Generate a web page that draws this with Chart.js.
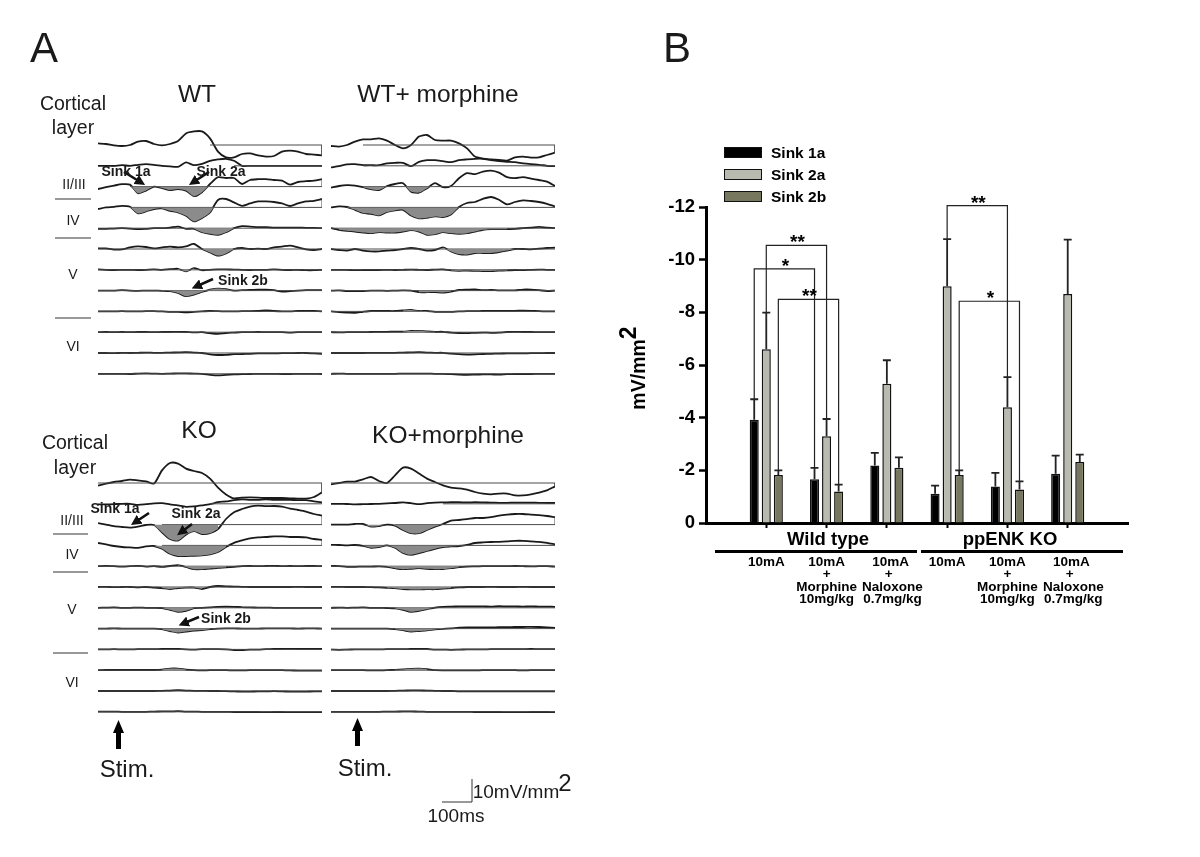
<!DOCTYPE html>
<html lang="en">

<head>
    <meta charset="UTF-8">
    <title>Sink amplitudes</title>
    <script src="https://cdn.jsdelivr.net/npm/chart.js"></script>
    <style>
        * {
            margin: 0;
            padding: 0;
        }

        body {
            background-color: #fff;
            width: 1200px;
            height: 857px;
            position: relative;
            overflow: hidden;
            font-family: "Liberation Sans", Arial, sans-serif;
            color: #1a1a1a;
        }

        canvas,
        svg {
            position: absolute;
        }

        .t {
            position: absolute;
            transform: translate(-50%, -50%);
            white-space: nowrap;
        }

        .panel { font-size: 42px; }
        .title { font-size: 24.5px; }
        .cortical { font-size: 19.5px; }
        .layer { font-size: 14px; }
        .stim { font-size: 24px; }
        .scale { font-size: 19px; }
        .sink { font-size: 14px; font-weight: bold; }
        .group { font-size: 18.5px; font-weight: bold; color: #000; }
        .legendText { font-size: 15.5px; font-weight: bold; color: #000; transform: translate(0, -50%); }

        .swatch {
            position: absolute;
            left: 724px;
            width: 36px;
            height: 9px;
            border: 1.5px solid #111;
        }

        .bar {
            position: absolute;
            background-color: #000;
            height: 3px;
            top: 550px;
        }
    </style>
</head>

<body>
    <canvas id="wtChart" width="224" height="272" style="left:98px;top:121px"></canvas>
    <canvas id="wtmChart" width="224" height="272" style="left:331px;top:121px"></canvas>
    <canvas id="koChart" width="224" height="272" style="left:98px;top:459px"></canvas>
    <canvas id="komChart" width="224" height="272" style="left:331px;top:459px"></canvas>
    <canvas id="barChart" width="540" height="490" style="left:640px;top:130px"></canvas>

    <svg width="1200" height="857" style="left:0;top:0">
        <defs>
            <marker id="head" markerWidth="4" markerHeight="4" refX="2.6" refY="2" orient="auto">
                <path d="M0,0 L4,2 L0,4 Z" fill="#111"></path>
            </marker>
        </defs>
        <g stroke="#333" stroke-width="1">
            <line x1="55" y1="199" x2="91" y2="199"></line>
            <line x1="55" y1="238" x2="91" y2="238"></line>
            <line x1="55" y1="318" x2="91" y2="318"></line>
            <line x1="53" y1="534" x2="88" y2="534"></line>
            <line x1="53" y1="572" x2="88" y2="572"></line>
            <line x1="53" y1="653" x2="88" y2="653"></line>
            <line x1="472" y1="779" x2="472" y2="802"></line>
            <line x1="442" y1="802" x2="472" y2="802"></line>
        </g>
        <g stroke="#111" stroke-width="2.6" marker-end="url(#head)">
            <line x1="124" y1="172" x2="142" y2="183"></line>
            <line x1="209" y1="172" x2="192" y2="183"></line>
            <line x1="213" y1="279" x2="195" y2="287"></line>
            <line x1="149" y1="513" x2="134" y2="523"></line>
            <line x1="192" y1="524" x2="180" y2="533"></line>
            <line x1="199" y1="617" x2="182" y2="624"></line>
        </g>
        <path d="M118.5,720 L124,733 L121,733 L121,749 L116,749 L116,733 L113,733 Z" fill="#000"></path>
        <path d="M357.5,718 L363,731 L360,731 L360,746 L355,746 L355,731 L352,731 Z" fill="#000"></path>
    </svg>

    <div class="t panel" style="left:44px;top:48px">A</div>
    <div class="t panel" style="left:677px;top:48px">B</div>

    <div class="t cortical" style="left:73px;top:103px">Cortical</div>
    <div class="t cortical" style="left:73px;top:127px">layer</div>
    <div class="t cortical" style="left:75px;top:442px">Cortical</div>
    <div class="t cortical" style="left:75px;top:467px">layer</div>

    <div class="t title" style="left:197px;top:94px">WT</div>
    <div class="t title" style="left:438px;top:94px">WT+ morphine</div>
    <div class="t title" style="left:199px;top:430px">KO</div>
    <div class="t title" style="left:448px;top:435px">KO+morphine</div>

    <div class="t layer" style="left:74px;top:184px">II/III</div>
    <div class="t layer" style="left:73px;top:220px">IV</div>
    <div class="t layer" style="left:73px;top:274px">V</div>
    <div class="t layer" style="left:73px;top:346px">VI</div>
    <div class="t layer" style="left:72px;top:520px">II/III</div>
    <div class="t layer" style="left:72px;top:554px">IV</div>
    <div class="t layer" style="left:72px;top:609px">V</div>
    <div class="t layer" style="left:72px;top:682px">VI</div>

    <div class="t sink" style="left:126px;top:171px">Sink 1a</div>
    <div class="t sink" style="left:221px;top:171px">Sink 2a</div>
    <div class="t sink" style="left:243px;top:280px">Sink 2b</div>
    <div class="t sink" style="left:115px;top:508px">Sink 1a</div>
    <div class="t sink" style="left:196px;top:513px">Sink 2a</div>
    <div class="t sink" style="left:226px;top:618px">Sink 2b</div>

    <div class="t stim" style="left:127px;top:769px">Stim.</div>
    <div class="t stim" style="left:365px;top:768px">Stim.</div>
    <div class="t scale" style="left:516px;top:792px">10mV/mm</div>
    <div class="t scale" style="left:565px;top:783px;font-size:24px">2</div>
    <div class="t scale" style="left:456px;top:816px">100ms</div>

    <div class="t" id="yTitle" style="left:637px;top:368px;transform:translate(-50%,-50%) rotate(-90deg);font-size:19.5px;font-weight:bold;color:#000">mV/mm<span style="font-size:23px;position:relative;top:-9px">2</span></div>

    <div class="t group" style="left:828px;top:539px">Wild type</div>
    <div class="t group" style="left:1010px;top:539px">ppENK KO</div>
    <div class="bar" style="left:715px;width:202px"></div>
    <div class="bar" style="left:921px;width:202px"></div>

    <div id="legend"></div>

    <script>
        // Panel A, time axis in ms
        const timeMs = [0, 28, 56, 84, 112, 140, 168, 196, 224, 252, 280, 308, 336, 364, 392, 420, 448, 476, 504, 532, 560, 588, 616, 644, 672, 700, 728, 756, 784];

        // CSD traces in mV/mm2, one row per channel
        const wtTraces = [
            [0.8, 0.5, -0.2, -0.5, 0, 1.7, 2, 0.5, -0.2, 0.5, 2, 5.8, 6.8, 6.8, 3.3, -3.3, -6.2, -6.2, -4.5, -4.2, -5.2, -5.8, -5.5, -3.3, -2.8, -3.3, -4.5, -4.8, -5.2],
            [0, 0, 0, 0.3, 0, 0.5, 0.8, 0.5, 0, -0.3, -0.5, 1.7, 0.3, 1, 2.5, 3.2, 3.5, 2.5, 0, 0, 0, 0, 0, 0, 0, 0, 0, 0, 0],
            [-1.2, -0.3, 0.5, 1.2, 1, -3.3, -2, 0, -0.7, -1.7, -1.2, -2, -4.8, -2.8, 1.3, 4.7, 4.3, 4.3, 1.3, 3.3, 3.7, 3.7, 3.3, 3, 1, 2.3, 2.7, 3, 3.7],
            [-0.8, 0, 0.3, 0.8, 0.3, -3, -2, -0.8, -0.5, -1.7, -2.5, -4.2, -7, -5.3, -2.5, 3.7, 4.2, 2.5, 0.8, 2, 3, 3, 2.7, 2, 0.7, 2, 3, 3.3, 4.2],
            [-0.3, -0.3, -0.2, 0, -0.2, -0.5, -0.3, 0, 0, 0.3, 0.8, -0.3, -0.3, -2, -2.8, -3.3, -2, 0, 1, 0.8, 0.5, 0.5, 0.3, 0.3, 0.3, 0.3, 0.2, 0.2, 0],
            [0.3, 0.3, -0.3, -0.2, 0.8, 1.3, 1, 0.3, 0.8, 1.2, 0.8, 1.3, 2.5, 0, -1.7, -3.3, -2.2, 0, 0.5, 0, 0.2, 0, 0.8, 1.2, 1.7, 0.8, -0.2, -0.5, 0],
            [0.2, 0, -0.1, 0, 0, -0.1, 0, 0.2, 0, 0.3, 0.5, -0.8, 0.8, -0.2, 0, 0.2, 0.2, 0.1, 0, -0.1, 0, 0, 0.2, 0, -0.1, 0, -0.2, -0.2, 0],
            [0, 0, 0, 0.2, 0, -0.1, 0, 0, -0.1, -0.3, -1.2, -2.8, -2, -0.7, 0.5, 1, 0.7, 0, 0.2, 0.3, 0.5, 0.5, 0.2, -0.5, -0.3, 0, 0.2, 0.2, 0.2],
            [0, 0, 0, 0.1, 0, 0, 0.1, 0.1, 0, -0.2, -0.2, -0.5, -0.2, 0, 0.2, 0.1, 0, 0, 0.1, 0.1, 0.2, 0.5, 0.2, 0, 0, 0.2, 0.3, 0.2, 0],
            [0, 0.1, 0, 0.1, 0, 0.1, 0.1, 0, 0.1, 0.1, 0.2, 0.1, -0.1, 0, -0.5, -0.8, -0.4, -0.2, 0, 0, 0.1, 0, 0, 0, -0.2, 0, 0, 0, 0],
            [0, 0, -0.1, 0.1, 0, 0.1, 0.2, 0.1, 0.1, 0.2, 0.3, 0.4, 0.2, 0, -0.7, -1, -0.9, -0.6, -0.5, -0.4, -0.2, -0.2, -0.2, -0.1, -0.1, 0, 0, -0.2, -0.4],
            [0, 0, 0, 0, -0.1, 0.1, 0.2, 0.1, 0, 0.1, 0.2, 0.2, 0.1, 0, -0.5, -0.8, -0.5, -0.3, -0.2, -0.1, 0, 0, 0, -0.1, -0.1, 0, 0, 0, -0.1]
        ];
        const wtmTraces = [
            [-0.5, -0.8, 0, 1.7, 2.8, 2.8, 3.3, 2.2, 0, -1.7, 0, 4.2, 5, 2.5, 2.2, 2.2, 0.8, -1.7, -5.8, -6.8, -7.2, -7.5, -7.8, -6.2, -5.8, -6.3, -6.2, -5, -3.8],
            [-0.8, -0.2, 0.7, 0.8, 0.3, 0.3, 0.3, 1.2, 1.5, 1.5, -0.2, 2, 2.8, 2.8, 2.3, 1.8, 2.8, 3.2, 3.5, 3.5, 2.8, 2.3, 2, 1.8, 1.2, 0.8, 0.5, 0, -0.2],
            [-0.5, 0.3, 0.7, 0.5, -0.3, -1.3, -1.7, 0.3, 1.3, 1.7, -2.5, -3, -0.8, 1.7, -0.3, 0.3, 4.2, 6.7, 6.2, 7.5, 8, 7, 4.7, 4.2, 4.7, 4, 3.3, 2.5, 0.3],
            [0, 0.5, 0.2, -1.2, -2.8, -3.2, -4, -2.3, -1.5, -1.2, -4, -5.5, -5.2, -4.5, -4.8, -3.5, 0.2, 2.2, 2.7, 4.3, 5.2, 3.8, 1.5, 2.7, 3.5, 3.2, 2.7, 1.8, 0.5],
            [0, -0.8, -1.3, -1.7, -2.2, -2.5, -2, -2.2, -2.2, -1.7, -1, -1.7, -3.3, -3, -2, -2.5, -2.8, -2.5, -1.7, -0.8, -0.5, -0.5, -0.5, -0.3, 0, 0.3, 0.7, 0.3, 0],
            [0, -0.5, -0.8, 0, -0.8, -1.2, -1.2, -0.8, -0.5, 0, 0.5, 0, -0.8, -0.5, 0.8, -1.2, -2.5, -2.8, -2, -2, -2, -1.5, -0.8, 0, 0, -0.2, 0.2, 0.5, 0.7],
            [0, 0, 0, -0.2, -0.1, -0.1, -0.1, 0, -0.1, 0, 0.1, 0, -0.1, 0.1, 0.2, -0.3, -0.5, -0.4, -0.5, -0.6, -0.6, -0.4, -0.3, -0.1, -0.2, 0, 0.1, 0, 0],
            [0, 0.1, -0.2, -0.3, -0.2, 0, 0, -0.1, 0, 0.1, 0, -0.8, -0.8, -0.7, -1, -0.5, 0.3, 0.5, 0.6, 0.2, 0.3, 0.1, 0.1, 0.1, 0.5, 0.5, 0.2, -0.2, 0],
            [0, -0.4, -0.6, -0.7, -0.2, 0.2, 0.2, 0.2, 0.2, 0.5, 0.7, 0.2, 0.2, -0.2, -0.2, -0.2, 0, 0.1, 0.1, 0.2, 0.3, 0.3, 0.3, 0.3, 0.4, 0.3, 0.1, 0, 0],
            [0, -0.1, 0, 0, 0, 0.1, 0.2, 0.2, 0.3, 0.3, 0.6, 0.7, 0.4, 0.2, 0.2, -0.2, -0.4, -0.5, -0.3, -0.2, -0.3, -0.2, 0.1, 0.2, 0.1, 0.1, 0, 0, 0],
            [0, 0, 0, 0, 0, 0.1, 0.1, 0.1, 0.1, 0.2, 0.3, 0.4, 0.2, 0.1, 0.1, -0.3, -0.6, -0.8, -0.7, -0.5, -0.4, -0.3, -0.2, -0.2, -0.2, -0.1, -0.1, 0, 0],
            [0, 0.1, 0, 0, 0, 0, 0, 0, 0, 0.1, 0.1, 0.1, 0.1, 0, 0, -0.2, -0.4, -0.5, -0.4, -0.3, -0.3, -0.4, -0.2, -0.1, -0.1, -0.1, 0, 0, 0]
        ];
        const koTraces = [
            [-1.3, -0.3, 0.5, 1, 1.7, 1.3, 0.8, -0.3, 6.3, 10, 9.7, 7.2, 6, 5, 2.2, -2.3, -5.7, -7.7, -7.3, -7.2, -7.3, -7.5, -7.5, -7.5, -7.7, -7.8, -7.8, -7, -4.7],
            [-0.3, -0.3, -0.2, 0, 0, -0.5, -0.2, 0.2, 0.3, -0.3, -0.8, -1.5, -1.3, -0.8, -0.2, 0.8, 1.2, 1.8, 2.2, 2, 2, 2.2, 2, 2, 2, 1.8, 1.8, 1.2, 0.7],
            [0.7, 0, -0.8, -1.2, -1.5, -1, -0.2, -0.2, -3.8, -7.2, -8, -5, -3.3, -4.7, -4.3, -2.2, 2.8, 6.2, 7.8, 9, 9.5, 9.2, 9.3, 9, 8, 7.3, 6.5, 5.3, 4.5],
            [1.2, 0.5, -0.3, -0.8, -1, -1.2, -0.5, -0.3, -1.7, -4.2, -5.3, -5.3, -5.2, -5, -4.5, -3.3, -0.8, 1.3, 2.5, 3.5, 4, 4.2, 4.5, 4.5, 4.2, 4.2, 4, 3.2, 2.8],
            [0, 0.2, 0, -0.2, 0, 0.2, -0.2, 0, -0.3, 0.1, 0.5, -0.4, -1.5, -1.5, -1.2, -0.8, -0.6, -0.3, 0, 0.1, 0, 0.1, 0.2, 0, 0.1, 0, 0.1, 0.1, 0],
            [0, 0.1, -0.1, 0, 0, -0.2, 0, -0.3, -0.5, -1, -0.5, -0.3, -0.3, -1, 0, 0.5, 0.3, 0.2, 0.1, 0, 0, 0, 0, 0, 0, 0.1, 0, 0, 0],
            [0, 0.1, 0.2, 0, 0, 0.1, 0, 0, -0.1, -1, -2, -1.5, -0.2, 0, 0.2, 0.5, 0.6, 0.5, 0.3, 0.2, 0.1, 0.1, 0, 0, 0, 0, 0, 0, 0],
            [0, 0, 0.1, 0, 0, 0, 0, 0, -0.3, -1.2, -2, -1.5, -1, -0.7, -0.3, 0, 0.1, 0.1, 0, 0, 0, 0.1, 0.1, 0.1, 0.1, 0, 0.1, 0.1, 0],
            [0, 0, 0.1, 0, 0, 0.1, 0.1, 0.1, 0.2, 0.3, 0.2, 0, -0.1, 0.1, 0.1, 0.1, 0, -0.3, -0.3, -0.1, -0.1, 0.1, 0.2, 0.2, 0.3, 0.2, 0.2, 0.2, 0.2],
            [0, 0.1, 0.1, 0.1, 0.1, 0.1, 0.1, 0.1, 0.3, 0.8, 0.8, 0.3, 0, -0.1, 0, 0, 0, -0.1, -0.1, 0, 0, 0, 0, 0, -0.1, -0.2, -0.2, -0.2, -0.2],
            [0, 0, 0, 0, 0, 0, 0, 0, 0.1, 0.2, 0.4, 0.2, 0.1, 0.1, 0, 0, -0.1, -0.2, -0.3, -0.3, -0.2, -0.2, -0.1, -0.2, -0.3, -0.3, -0.3, -0.2, -0.2],
            [0.1, 0.1, 0.1, 0, 0, 0, 0, 0.1, 0.2, 0.2, 0.3, 0.1, 0.1, 0, 0, 0, 0, -0.1, -0.1, -0.1, -0.1, -0.2, -0.1, -0.1, -0.2, -0.2, -0.2, -0.2, -0.2]
        ];
        const komTraces = [
            [-0.7, 0, 0.7, 0.7, 1.8, 3, 1, 0, 3.8, 7.7, 7.2, 4.7, 2.2, 0.5, -1.2, -2.3, -2.7, -3.3, -4.5, -5.3, -5.7, -5.3, -5.3, -6.2, -6.2, -5.7, -4.8, -3.7, -1.7],
            [0, 0, -0.1, -0.3, -0.2, -0.1, 0, 0.2, 0.4, 0.7, 0.3, -0.2, 0.3, 0.6, 0.7, 0.8, 0.8, 0.7, 0.8, 0.7, 0.6, 0.5, 0.5, 0.6, 0.6, 0.6, 0.5, 0.4, 0.4],
            [0, 0, 0, 0.3, 0.3, -1, -0.7, 0, -0.5, -2.7, -4.3, -4.3, -2.7, -1, 0.3, 2, 2.3, 2.7, 3.3, 3.3, 3.7, 4.5, 5, 5.3, 5.3, 5, 4.7, 4.3, 3.7],
            [0.3, 0.2, 0, 0.2, -0.2, -1.2, -0.8, 0, -1.2, -3.8, -4.7, -3.8, -2.8, -1.7, -0.8, -0.5, -0.3, 0.3, 1.2, 1.5, 1.7, 1.8, 2, 2.3, 2.3, 2, 1.8, 1.3, 0.5],
            [0.2, 0, -0.3, -0.3, -0.2, -0.2, -0.1, -0.3, -1, -1.5, -1.3, -1, -1.3, -1.5, -1.4, -1, -0.5, -0.2, -0.1, 0, 0, 0, 0, 0.1, 0, -0.1, 0, 0, -0.2],
            [0.1, 0.1, 0, 0, 0, -0.1, -0.2, -0.4, -0.6, -1, -1.2, -1.2, -1.1, -1.1, -0.8, -0.5, -0.2, 0, 0, 0, 0.1, 0, 0, 0, 0.1, 0, 0, 0, 0],
            [0, 0.1, 0, 0.1, 0.2, 0, 0, -0.1, -0.3, -1, -2, -1.5, -0.7, 0.1, 0.5, 0.6, 0.7, 0.7, 0.7, 0.7, 0.6, 0.8, 0.7, 0.7, 0.6, 0.7, 0.6, 0.6, 0.5],
            [0, 0, 0, 0, 0, 0, 0, 0, -0.3, -0.8, -1.5, -1.2, -0.9, -0.4, -0.1, 0.1, 0.5, 0.6, 0.6, 0.6, 0.6, 0.7, 0.7, 0.8, 0.8, 0.9, 0.8, 0.6, 0.3],
            [-0.1, -0.2, -0.1, 0, 0, 0, 0, 0.1, 0.1, 0.1, 0.2, 0.2, 0.2, -0.1, -0.1, -0.2, -0.1, 0, 0, 0, 0.1, 0.1, 0.1, 0.1, 0.1, 0.2, 0.1, 0.1, 0.1],
            [0, 0, 0, 0, 0, -0.1, -0.1, 0, 0.2, 0.4, 0.7, 0.8, 0.5, 0, -0.1, -0.1, -0.1, -0.1, -0.1, 0, 0, 0, 0, 0, -0.1, 0, 0, 0, 0],
            [0, 0, 0, 0, 0, 0, 0, 0, 0.1, 0.2, 0.3, 0.3, 0.2, 0.1, 0, 0, -0.2, -0.2, -0.2, -0.2, -0.2, -0.2, -0.2, -0.2, -0.2, -0.2, -0.2, -0.2, -0.2],
            [0, 0, 0, 0, 0, 0, 0, 0.1, 0.1, 0.2, 0.2, 0.1, 0, 0, 0, 0, 0, 0, -0.1, -0.1, -0.1, -0.1, -0.2, -0.2, -0.2, -0.1, -0.1, -0.1, -0.2]
        ];

        // which sample each channel's zero line starts at
        const wtZeroFrom = [14, 17, 4, 4, 0, 0, 0, 0, 0, 0, 0, 0];
        const wtmZeroFrom = [4, 4, 4, 2, 0, 0, 0, 0, 0, 0, 0, 0];
        const koZeroFrom = [0, 14, 8, 8, 0, 0, 0, 0, 0, 0, 0, 0];
        const komZeroFrom = [0, 14, 8, 4, 0, 0, 0, 0, 0, 0, 0, 0];

        // shaded sinks: channel, first sample, last sample
        const wtSinks = [[2, 4, 14], [3, 4, 15], [4, 12, 17], [5, 13, 17], [6, 10, 12], [7, 8, 18]];
        const wtmSinks = [[2, 4, 7], [2, 9, 13], [3, 2, 16], [4, 1, 22], [5, 14, 23], [6, 15, 22], [7, 11, 15], [8, 9, 12], [9, 9, 13]];
        const koSinks = [[2, 7, 15], [3, 7, 16], [4, 10, 16], [5, 8, 13], [6, 8, 12], [7, 8, 14], [9, 8, 11]];
        const komSinks = [[2, 3, 14], [3, 3, 16], [4, 7, 16], [5, 7, 15], [6, 8, 13], [7, 8, 14], [9, 8, 12]];

        const channelGap = 10.4;

        function makeTraceChart(id, traces, zeroFrom, sinks) {
            let datasets = [];

            sinks.forEach(function (sink) {
                let ch = sink[0];
                let zero = -ch * channelGap;
                datasets.push({
                    data: timeMs.map(function (t, i) {
                        return { x: t, y: i >= sink[1] && i <= sink[2] ? zero + traces[ch][i] : null };
                    }),
                    borderWidth: 0,
                    pointRadius: 0,
                    tension: 0.25,
                    fill: { target: { value: zero }, below: '#8b8b8b', above: ch > 3 ? '#8b8b8b' : 'rgba(0,0,0,0)' }
                });
            });

            traces.forEach(function (trace, ch) {
                let zero = -ch * channelGap;
                let last = timeMs.length - 1;
                // zero line, closed up to the end of the trace like a box
                datasets.push({
                    data: [
                        { x: timeMs[zeroFrom[ch]], y: zero },
                        { x: timeMs[last], y: zero },
                        { x: timeMs[last], y: zero + trace[last] }
                    ],
                    borderColor: '#4a4a4a',
                    borderWidth: 1,
                    pointRadius: 0,
                    fill: false
                });
                datasets.push({
                    data: timeMs.map(function (t, i) {
                        return { x: t, y: zero + trace[i] };
                    }),
                    borderColor: '#1a1a1a',
                    borderWidth: 1.8,
                    pointRadius: 0,
                    tension: 0.25,
                    fill: false
                });
            });

            return new Chart(document.getElementById(id), {
                type: 'line',
                data: { datasets: datasets },
                options: {
                    responsive: false,
                    animation: false,
                    clip: false,
                    layout: { padding: 0 },
                    plugins: { legend: { display: false }, tooltip: { enabled: false } },
                    scales: {
                        x: { type: 'linear', display: false, min: 0, max: 784 },
                        y: { display: false, min: -124, max: 12 }
                    }
                }
            });
        }

        makeTraceChart('wtChart', wtTraces, wtZeroFrom, wtSinks);
        makeTraceChart('wtmChart', wtmTraces, wtmZeroFrom, wtmSinks);
        makeTraceChart('koChart', koTraces, koZeroFrom, koSinks);
        makeTraceChart('komChart', komTraces, komZeroFrom, komSinks);

        // Panel B
        const conditions = [
            '',
            ['10mA'],
            ['10mA', '+', 'Morphine', '10mg/kg'],
            ['  10mA', ' +', '   Naloxone', '   0.7mg/kg'],
            ['10mA'],
            ['10mA', '+', 'Morphine', '10mg/kg'],
            ['  10mA', ' +', '   Naloxone', '   0.7mg/kg'],
            ''
        ];
        const seriesNames = ['Sink 1a', 'Sink 2a', 'Sink 2b'];
        const seriesColors = ['#000000', '#b9baaf', '#77775f'];
        const sink1a = [null, -3.92, -1.66, -2.18, -1.11, -1.39, -1.87, null];
        const sink2a = [null, -6.6, -3.29, -5.29, -8.99, -4.4, -8.7, null];
        const sink2b = [null, -1.82, -1.2, -2.1, -1.82, -1.27, -2.32, null];
        const err1a = [null, 0.78, 0.43, 0.48, 0.31, 0.51, 0.69, null];
        const err2a = [null, 1.39, 0.66, 0.89, 1.79, 1.14, 2.06, null];
        const err2b = [null, 0.18, 0.26, 0.39, 0.18, 0.31, 0.28, null];

        // significance brackets: [series, left category, right category, height, stars]
        const brackets = [
            [1, 1, 2, -10.54, '**'],
            [0, 1, 2, -9.65, '*'],
            [2, 1, 2, -8.49, '**'],
            [1, 4, 5, -12.05, '**'],
            [2, 4, 5, -8.42, '*']
        ];

        const seriesValues = [sink1a, sink2a, sink2b];
        const seriesErrors = [err1a, err2a, err2b];

        const errorBarPlugin = {
            id: 'errorBars',
            afterDatasetsDraw: function (chart) {
                const ctx = chart.ctx;
                const y = chart.scales.y;

                ctx.save();
                ctx.strokeStyle = '#222';
                ctx.lineWidth = 1.8;
                seriesValues.forEach(function (values, s) {
                    let bars = chart.getDatasetMeta(s).data;
                    values.forEach(function (v, i) {
                        if (v === null) return;
                        let top = y.getPixelForValue(v - seriesErrors[s][i]);
                        ctx.beginPath();
                        ctx.moveTo(bars[i].x, y.getPixelForValue(v));
                        ctx.lineTo(bars[i].x, top);
                        ctx.moveTo(bars[i].x - 4, top);
                        ctx.lineTo(bars[i].x + 4, top);
                        ctx.stroke();
                    });
                });

                ctx.lineWidth = 1.2;
                ctx.fillStyle = '#000';
                ctx.font = 'bold 19px "Liberation Sans"';
                ctx.textAlign = 'center';
                ctx.textBaseline = 'alphabetic';
                brackets.forEach(function (b) {
                    let bars = chart.getDatasetMeta(b[0]).data;
                    let xa = bars[b[1]].x;
                    let xb = bars[b[2]].x;
                    let h = y.getPixelForValue(b[3]);
                    let vals = seriesValues[b[0]];
                    let errs = seriesErrors[b[0]];
                    ctx.beginPath();
                    ctx.moveTo(xa, y.getPixelForValue(vals[b[1]] - errs[b[1]]));
                    ctx.lineTo(xa, h);
                    ctx.lineTo(xb, h);
                    ctx.lineTo(xb, y.getPixelForValue(vals[b[2]] - errs[b[2]]));
                    ctx.stroke();
                    ctx.fillText(b[4], (xa + xb) / 2 + 1, h + 3);
                });
                ctx.restore();
            }
        };

        new Chart(document.getElementById('barChart'), {
            type: 'bar',
            data: {
                labels: conditions,
                datasets: seriesNames.map(function (name, s) {
                    return {
                        label: name,
                        data: seriesValues[s],
                        backgroundColor: seriesColors[s],
                        borderColor: '#111',
                        borderWidth: 1.5,
                        categoryPercentage: 0.6,
                        barPercentage: 0.75
                    };
                })
            },
            options: {
                responsive: false,
                animation: false,
                layout: { padding: { left: 0, right: 52, top: 77, bottom: 0 } },
                plugins: { legend: { display: false }, tooltip: { enabled: false } },
                scales: {
                    x: {
                        offset: false,
                        afterFit: function (scale) { scale.height = 97; },
                        border: { color: '#000', width: 3 },
                        grid: {
                            offset: false,
                            drawOnChartArea: false,
                            tickLength: 5,
                            tickWidth: 2,
                            tickColor: function (c) {
                                return c.index === 0 || c.index === conditions.length - 1 ? 'rgba(0,0,0,0)' : '#000';
                            }
                        },
                        ticks: {
                            autoSkip: false,
                            maxRotation: 0,
                            padding: 28,
                            color: '#000',
                            font: { family: '"Liberation Sans"', size: 13.5, weight: 'bold', lineHeight: 0.92 }
                        }
                    },
                    y: {
                        reverse: true,
                        min: -12,
                        max: 0,
                        afterFit: function (scale) { scale.width = 66; },
                        border: { color: '#000', width: 3 },
                        grid: { drawOnChartArea: false, tickLength: 7, tickWidth: 2.5, tickColor: '#000' },
                        ticks: {
                            stepSize: 2,
                            padding: 4,
                            color: '#000',
                            font: { family: '"Liberation Sans"', size: 18.5, weight: 'bold' }
                        }
                    }
                }
            },
            plugins: [errorBarPlugin]
        });

        // legend, same order as the series
        let legendHtml = '';
        seriesNames.forEach(function (name, s) {
            let top = 153 + s * 22;
            legendHtml += '<div class="swatch" style="top:' + (top - 6) + 'px;background-color:' + seriesColors[s] + '"></div>';
            legendHtml += '<div class="t legendText" style="left:771px;top:' + top + 'px">' + name + '</div>';
        });
        document.getElementById('legend').innerHTML = legendHtml;
    </script>
</body>

</html>
